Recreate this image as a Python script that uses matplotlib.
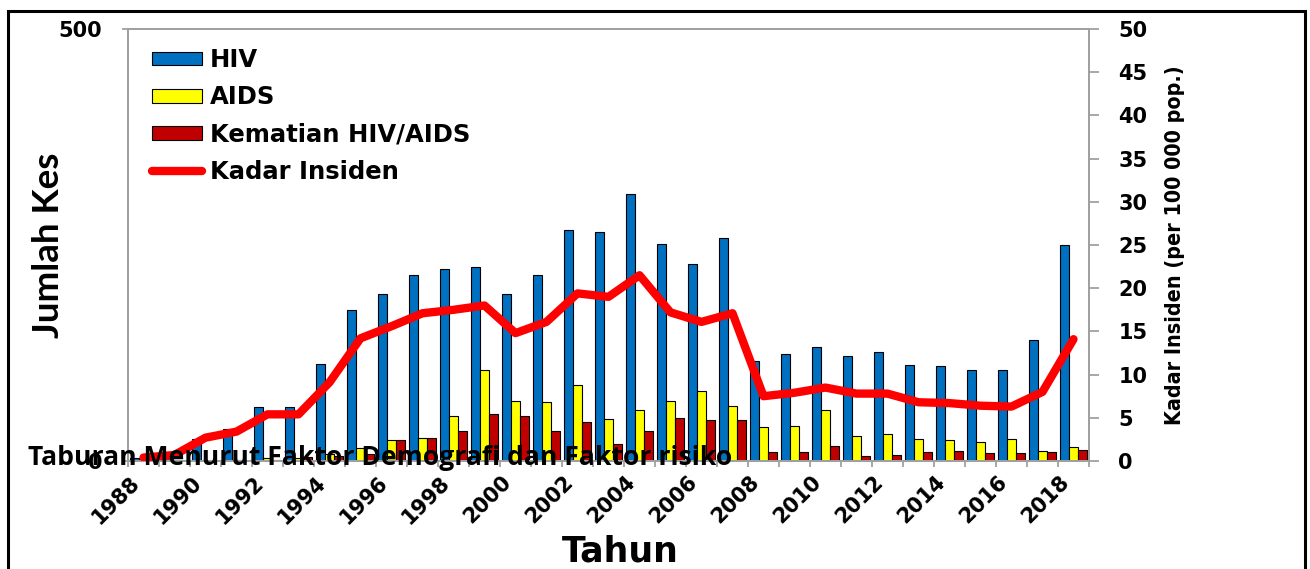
import numpy as np
import matplotlib
matplotlib.use("Agg")
import matplotlib.pyplot as plt
import matplotlib.transforms as mtransforms
from matplotlib.patches import Rectangle, Patch
from matplotlib.lines import Line2D
from matplotlib.ticker import FixedLocator

# data
years = list(range(1988, 2019))
hiv = [3, 5, 25, 37, 62, 62, 112, 175, 193, 215, 222, 225, 193, 215, 267, 265,
       309, 251, 228, 258, 116, 124, 132, 121, 126, 111, 110, 105, 105, 140, 250]
aids = [0, 0, 0, 1, 4, 4, 8, 15, 24, 27, 52, 105, 69, 68, 88, 49,
        59, 69, 81, 64, 39, 40, 59, 29, 31, 25, 24, 22, 25, 12, 16]
deaths = [0, 0, 0, 0, 1, 5, 6, 8, 24, 27, 35, 54, 52, 35, 45, 20,
          35, 50, 47, 47, 10, 10, 17, 6, 7, 10, 12, 9, 9, 10, 13]
rate = [0.4, 0.7, 2.7, 3.4, 5.4, 5.4, 9.1, 14.2, 15.6, 17.1, 17.5, 18.0, 14.8, 16.1, 19.4, 19.0,
        21.5, 17.2, 16.1, 17.1, 7.5, 7.9, 8.5, 7.8, 7.8, 6.8, 6.7, 6.4, 6.3, 8.0, 14.1]

W, H = 1310, 569
fig = plt.figure(figsize=(W / 100, H / 100), dpi=100)
ax = fig.add_axes([128 / W, 1 - 461 / H, (1089 - 128) / W, (461 - 29) / H])
ax2 = ax.twinx()

grey = "#a0a0a0"
x = np.arange(len(years))
bw = 0.3
ax.bar(x - bw, hiv, bw, color="#0070C0", edgecolor="black", linewidth=0.8, zorder=2)
ax.bar(x, aids, bw, color="#FFFF00", edgecolor="black", linewidth=0.8, zorder=2)
ax.bar(x + bw, deaths, bw, color="#C00000", edgecolor="black", linewidth=0.8, zorder=2)

ax2.plot(x, rate, color="#FF0000", lw=6, solid_capstyle="round",
         solid_joinstyle="round", zorder=3)

ax.set_xlim(-0.5, len(years) - 0.5)
ax.set_ylim(0, 500)
ax2.set_ylim(0, 50)

for a in (ax, ax2):
    for s in a.spines.values():
        s.set_color(grey)
        s.set_linewidth(1.3)

# x axis: labels every 2 years, tick marks between categories
ax.set_xticks(x[::2])
ax.set_xticklabels([str(y) for y in years[::2]], rotation=45, ha="right",
                   fontsize=15, fontweight="bold", family="DejaVu Sans")
shift = mtransforms.ScaledTranslation(7 / 100, 0, fig.dpi_scale_trans)
for t in ax.get_xticklabels():
    t.set_transform(t.get_transform() + shift)
ax.xaxis.set_minor_locator(FixedLocator(np.arange(-0.5, len(years), 1)))
ax.tick_params(axis="x", which="major", length=0, pad=8)
ax.tick_params(axis="x", which="minor", length=4.3, color=grey, width=1.3)

ax.set_yticks([0, 500])
ax.set_yticklabels(["0", "500"], fontsize=15, fontweight="bold", family="DejaVu Sans")
ax.tick_params(axis="y", length=4.3, color=grey, width=1.3, pad=14.4)

ax2.set_yticks(np.arange(0, 51, 5))
ax2.set_yticklabels([str(v) for v in range(0, 51, 5)], fontsize=15,
                    fontweight="bold", family="DejaVu Sans")
ax2.tick_params(axis="y", length=7.2, color=grey, width=1.3, pad=14)

ax.set_ylabel("Jumlah Kes", fontsize=26.5, fontweight="bold", family="Lato")
ax.yaxis.set_label_coords(-0.066, 0.5)
ax.set_xlabel("Tahun", fontsize=25, fontweight="bold", family="DejaVu Sans")
ax.xaxis.set_label_coords(0.512, -0.17)
ax2.set_ylabel("Kadar Insiden (per 100 000 pop.)", fontsize=15.4, fontweight="bold",
               family="DejaVu Sans", fontstretch="condensed")
ax2.yaxis.set_label_coords(1.079, 0.5)

handles = [Patch(facecolor="#0070C0", edgecolor="black", linewidth=0.8),
           Patch(facecolor="#FFFF00", edgecolor="black", linewidth=0.8),
           Patch(facecolor="#C00000", edgecolor="black", linewidth=0.8),
           Line2D([], [], color="#FF0000", lw=6, solid_capstyle="round")]
labels = ["HIV", "AIDS", "Kematian HIV/AIDS", "Kadar Insiden"]
leg = ax2.legend(handles, labels, loc="upper left",
                 bbox_to_anchor=(152 / W, 1 - 48 / H), bbox_transform=fig.transFigure,
                 frameon=False, borderpad=0, borderaxespad=0,
                 handlelength=2.06, handleheight=0.49, handletextpad=0.33,
                 labelspacing=0.55, prop={"family": "DejaVu Sans", "weight": "bold", "size": 17.5})

fig.text(28 / W, 1 - 465 / H, "Taburan Menurut Faktor Demografi dan Faktor risiko",
         fontsize=19.1, fontweight="bold", family="Open Sans", va="baseline", ha="left",
         zorder=10)

# border round the whole picture
fig.patches.append(Rectangle((8 / W, -0.02), (1305 - 8) / W, 1 - 11 / H + 0.02,
                             transform=fig.transFigure, fill=False,
                             edgecolor="black", linewidth=2.2))

fig.savefig("out.png", dpi=100)
